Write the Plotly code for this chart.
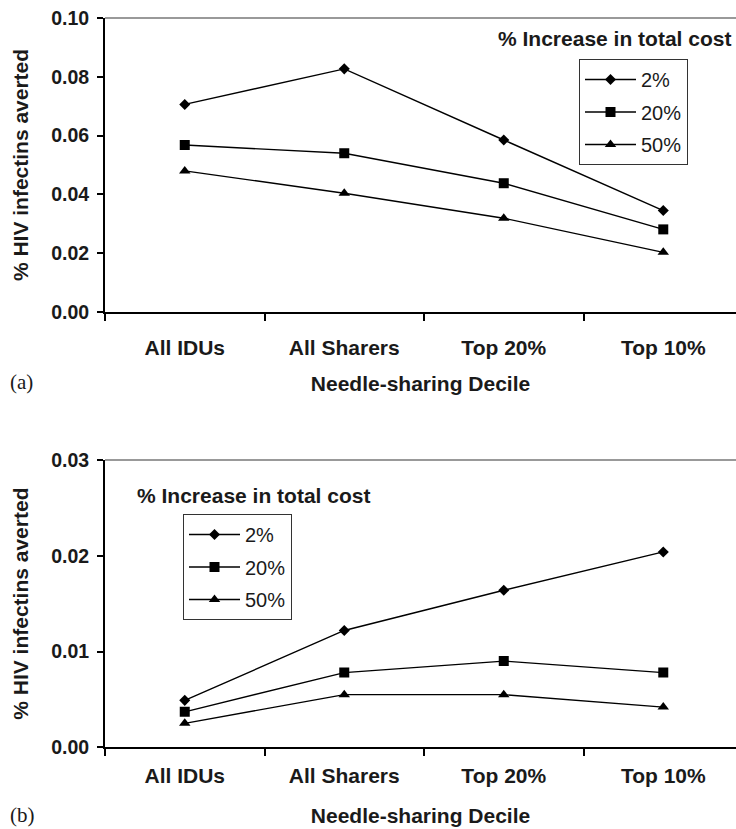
import plotly.graph_objects as go

categories = ["All IDUs", "All Sharers", "Top 20%", "Top 10%"]
series_names = ["2%", "20%", "50%"]

# Panel (a)
a_2 = [0.0706, 0.0827, 0.0585, 0.0345]
a_20 = [0.0568, 0.0540, 0.0438, 0.0281]
a_50 = [0.0480, 0.0404, 0.0319, 0.0203]

# Panel (b)
b_2 = [0.0049, 0.0122, 0.0164, 0.0204]
b_20 = [0.0037, 0.0078, 0.0090, 0.0078]
b_50 = [0.0025, 0.0055, 0.0055, 0.0042]

a_ticks = [0.00, 0.02, 0.04, 0.06, 0.08, 0.10]
b_ticks = [0.00, 0.01, 0.02, 0.03]

symbols = ["diamond", "square", "triangle-up"]
sizes = [8.5, 10, 10]

W, H = 736, 829
FONT = "Liberation Sans, Arial, sans-serif"
TXT = "#1a1a1a"

xpos = list(range(len(categories)))

fig = go.Figure()
for vals, nm, sym, sz in zip([a_2, a_20, a_50], series_names, symbols, sizes):
    fig.add_trace(go.Scatter(
        x=xpos, y=vals, name=nm, mode="lines+markers",
        line=dict(color="black", width=1.4),
        marker=dict(symbol=sym, size=sz, color="black"),
        xaxis="x", yaxis="y", legend="legend", legendgroup="a" + nm,
    ))
for vals, nm, sym, sz in zip([b_2, b_20, b_50], series_names, symbols, sizes):
    fig.add_trace(go.Scatter(
        x=xpos, y=vals, name=nm, mode="lines+markers",
        line=dict(color="black", width=1.4),
        marker=dict(symbol=sym, size=sz, color="black"),
        xaxis="x2", yaxis="y2", legend="legend2", legendgroup="b" + nm,
    ))

xr = [-0.5, 3.456]
xdom = [105 / W, 1.0]
boundaries = [i - 0.5 for i in range(len(categories) + 1)]

def xaxis_cfg(anchor, lab_standoff, title_standoff):
    return dict(
        domain=xdom, range=xr, anchor=anchor,
        tickmode="array", tickvals=xpos, ticktext=categories,
        ticks="", showgrid=False, zeroline=False,
        showline=True, linecolor="black", linewidth=2,
        tickfont=dict(family=FONT, size=21, color=TXT, weight="bold"),
        ticklabelstandoff=lab_standoff,
        minor=dict(tickmode="array", tickvals=boundaries, ticks="outside",
                   ticklen=7, tickwidth=1.5, tickcolor="black", showgrid=False),
        title=dict(text="Needle-sharing Decile", standoff=title_standoff,
                   font=dict(family=FONT, size=21, color=TXT, weight="bold")),
        automargin=False,
    )

def yaxis_cfg(dom, rng, tv, anchor):
    return dict(
        domain=dom, range=rng, anchor=anchor,
        tickmode="array", tickvals=tv, tickformat=".2f",
        ticks="outside", ticklen=6, tickwidth=1.5, tickcolor="black",
        showgrid=False, zeroline=False,
        showline=True, linecolor="black", linewidth=2,
        tickfont=dict(family=FONT, size=19.5, color=TXT, weight="bold"),
        ticklabelstandoff=4,
        title=dict(text="% HIV infectins averted", standoff=17,
                   font=dict(family=FONT, size=21, color=TXT, weight="bold")),
        automargin=False,
    )

legend_common = dict(
    xanchor="left", yanchor="top", bordercolor="#333333", borderwidth=1,
    bgcolor="white", font=dict(family=FONT, size=20, color=TXT),
    tracegroupgap=3.5, traceorder="grouped", itemwidth=51,
)

fig.update_layout(
    width=W, height=H,
    margin=dict(l=0, r=0, t=0, b=0),
    paper_bgcolor="white", plot_bgcolor="white",
    xaxis=xaxis_cfg("y", 16, 18),
    yaxis=yaxis_cfg([1 - 312 / H, 1 - 18 / H], [0, 0.10], a_ticks, "x"),
    xaxis2=xaxis_cfg("y2", 8, 23),
    yaxis2=yaxis_cfg([1 - 747.3 / H, 1 - 460 / H], [0, 0.03], b_ticks, "x2"),
    legend=dict(x=579 / W, y=1 - 59 / H, **legend_common),
    legend2=dict(x=183 / W, y=1 - 514 / H, **legend_common),
    showlegend=True,
)

# top frame lines (gray)
for yref in ["y domain", "y2 domain"]:
    xref = "x domain" if yref == "y domain" else "x2 domain"
    fig.add_shape(type="line", xref=xref, yref=yref, x0=0, x1=1, y0=1, y1=1,
                  line=dict(color="#777777", width=1.5))

# legend titles and panel labels
fig.add_annotation(text="% Increase in total cost", xref="paper", yref="paper",
                   x=733 / W, y=1 - 39 / H, xanchor="right", yanchor="middle",
                   showarrow=False,
                   font=dict(family=FONT, size=21, color=TXT, weight="bold"))
fig.add_annotation(text="% Increase in total cost", xref="paper", yref="paper",
                   x=135 / W, y=1 - 495 / H, xanchor="left", yanchor="middle",
                   showarrow=False,
                   font=dict(family=FONT, size=21, color=TXT, weight="bold"))
fig.add_annotation(text="(a)", xref="paper", yref="paper",
                   x=8 / W, y=1 - 382 / H, xanchor="left", yanchor="middle",
                   showarrow=False,
                   font=dict(family="Liberation Serif, Times New Roman, serif", size=21, color=TXT))
fig.add_annotation(text="(b)", xref="paper", yref="paper",
                   x=8 / W, y=1 - 815 / H, xanchor="left", yanchor="middle",
                   showarrow=False,
                   font=dict(family="Liberation Serif, Times New Roman, serif", size=21, color=TXT))

fig.write_html("out.html", config={"displayModeBar": False},
               post_script="document.body.style.margin='0';")
